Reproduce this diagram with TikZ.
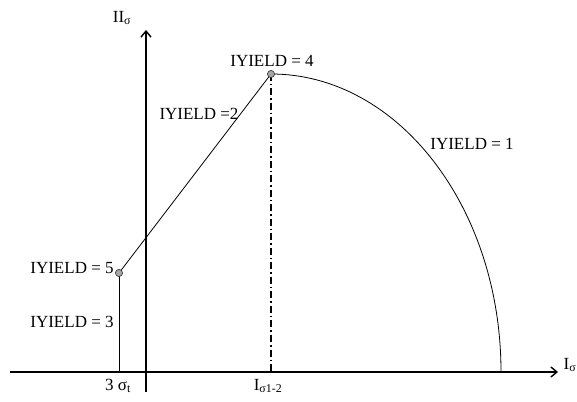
\documentclass[tikz,border=0pt]{standalone}
\usepackage{fontspec}
\setmainfont{Liberation Serif}
\usetikzlibrary{arrows.meta}
\begin{document}
\begin{tikzpicture}[x=1pt,y=1pt,
  axis/.style={line width=1.6pt,-{Straight Barb[length=6pt,width=10pt,line width=1.4pt]}},
  thin line/.style={line width=0.8pt},
  dashdot line/.style={line width=1.6pt,dash pattern=on 7pt off 3pt on 1.5pt off 3pt},
  pointdot/.style={circle,fill=gray!70,draw=black!80,line width=0.5pt,minimum size=7pt,inner sep=0pt},
  lbl/.style={font=\fontsize{17}{20}\selectfont,inner sep=0pt}]
\useasboundingbox (0,0) rectangle (577,401);
% coordinates
\coordinate (xs) at (10,29);
\coordinate (xe) at (558,29);
\coordinate (ys) at (146,9);
\coordinate (ye) at (146,371);
\coordinate (f5) at (119,29);
\coordinate (f4) at (271,29);
% axes
\draw[axis] (xs) -- (xe);
\draw[axis] (ys) -- (ye);
% points
\node[pointdot] (p5) at (119,128) {};
\node[pointdot] (p4) at (271,327) {};
% lines
\draw[thin line] (f5) -- (p5.center);
\draw[thin line] (p5.center) -- (p4.center);
\draw[dashdot line] (p4.center) -- (f4);
\draw[thin line] (p4.center) arc[start angle=90,end angle=0,x radius=230,y radius=298] coordinate (e1);
\node[pointdot] at (p5) {};
\node[pointdot] at (p4) {};
% labels
\node[lbl] (lII) at (122,383) {II\textsubscript{σ}};
\node[lbl] (lI) at (570,36) {I\textsubscript{σ}};
\node[lbl] (l4) at (272,340) {IYIELD = 4};
\node[lbl] (l2) at (199,287) {IYIELD =2};
\node[lbl] (l1) at (472,257) {IYIELD = 1};
\node[lbl] (l5) at (72,133) {IYIELD = 5};
\node[lbl] (l3) at (72,79) {IYIELD = 3};
\node[lbl] (ls) at (118,15) {3 σ\textsubscript{t}};
\node[lbl] (li) at (268,15) {I\textsubscript{σ1-2}};
\end{tikzpicture}
\end{document}
